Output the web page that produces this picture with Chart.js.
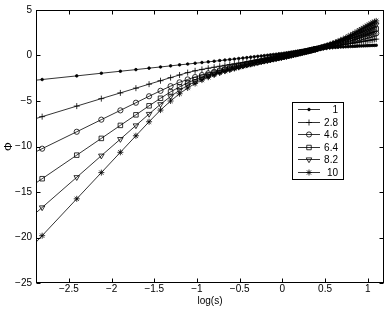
<!DOCTYPE html>
<html>
<head>
<meta charset="utf-8">
<script src="https://cdn.jsdelivr.net/npm/chart.js@4.4.1/dist/chart.umd.min.js"></script>
<style>
  html, body { margin: 0; padding: 0; background: #fff; }
  canvas { display: block; }
</style>
</head>
<body>
<canvas id="id_graph" width="390" height="309"></canvas>
<script>
// x = log(s)
var logS = [-3.507,-2.813,-2.408,-2.120,-1.897,-1.715,-1.561,-1.427,-1.309,-1.204,-1.109,-1.022,
  -0.942,-0.868,-0.799,-0.734,-0.673,-0.616,-0.562,-0.511,
  -0.462,-0.416,-0.371,-0.329,-0.288,-0.248,-0.211,-0.174,-0.139,-0.105,
  -0.073,-0.041,-0.010,0.020,0.049,0.077,0.104,0.131,0.157,0.182,
  0.207,0.231,0.255,0.278,0.300,0.322,0.344,0.365,0.385,0.405,
  0.445,0.482,0.519,0.554,0.588,0.621,0.652,0.683,0.713,0.742,
  0.770,0.798,0.824,0.850,0.875,0.900,0.924,0.948,0.971,0.993,
  1.015,1.037,1.058,1.078,1.099];

// Phi for each parameter value
var phi1 = [-3.34,-2.64,-2.24,-1.95,-1.73,-1.55,-1.39,-1.26,-1.14,-1.03,-0.94,-0.85,
  -0.77,-0.70,-0.63,-0.56,-0.50,-0.44,-0.39,-0.33,
  -0.28,-0.23,-0.18,-0.13,-0.09,-0.05,-0.01,0.03,0.07,0.11,
  0.14,0.18,0.21,0.25,0.29,0.33,0.37,0.41,0.45,0.48,
  0.52,0.55,0.58,0.61,0.64,0.67,0.69,0.71,0.73,0.75,
  0.78,0.80,0.83,0.85,0.87,0.89,0.91,0.93,0.94,0.96,
  0.97,0.99,1.00,1.01,1.03,1.04,1.05,1.06,1.07,1.08,
  1.09,1.10,1.11,1.11,1.12];
var phi28 = [-8.69,-6.72,-5.56,-4.74,-4.11,-3.59,-3.15,-2.77,-2.43,-2.14,-1.88,-1.68,
  -1.53,-1.40,-1.29,-1.18,-1.08,-0.99,-0.91,-0.83,
  -0.76,-0.69,-0.62,-0.56,-0.50,-0.44,-0.38,-0.32,-0.27,-0.21,
  -0.16,-0.11,-0.06,0.00,0.06,0.11,0.16,0.21,0.26,0.31,
  0.36,0.41,0.46,0.50,0.55,0.59,0.63,0.67,0.71,0.75,
  0.81,0.86,0.91,0.96,1.01,1.06,1.10,1.14,1.19,1.23,
  1.27,1.31,1.35,1.39,1.43,1.47,1.51,1.55,1.59,1.62,
  1.66,1.70,1.73,1.77,1.80];
var phi46 = [-13.43,-10.24,-8.38,-7.05,-6.03,-5.19,-4.48,-3.88,-3.37,-2.95,-2.63,-2.37,
  -2.15,-1.96,-1.79,-1.63,-1.49,-1.36,-1.24,-1.13,
  -1.03,-0.93,-0.84,-0.75,-0.67,-0.59,-0.52,-0.45,-0.38,-0.31,
  -0.25,-0.19,-0.13,-0.07,-0.01,0.05,0.10,0.16,0.21,0.27,
  0.32,0.37,0.42,0.47,0.52,0.57,0.62,0.66,0.70,0.75,
  0.83,0.91,0.99,1.07,1.14,1.21,1.28,1.35,1.42,1.49,
  1.56,1.63,1.70,1.76,1.83,1.89,1.96,2.02,2.08,2.14,
  2.20,2.26,2.32,2.37,2.43];
var phi64 = [-17.98,-13.54,-10.95,-9.11,-7.68,-6.52,-5.53,-4.70,-4.00,-3.45,-3.00,-2.65,
  -2.37,-2.13,-1.92,-1.74,-1.58,-1.44,-1.31,-1.19,
  -1.08,-0.98,-0.88,-0.79,-0.71,-0.63,-0.56,-0.49,-0.42,-0.35,
  -0.29,-0.23,-0.17,-0.11,-0.05,0.01,0.07,0.13,0.18,0.24,
  0.29,0.35,0.40,0.45,0.50,0.55,0.60,0.65,0.70,0.74,
  0.84,0.93,1.02,1.11,1.20,1.29,1.38,1.47,1.56,1.65,
  1.74,1.83,1.92,2.01,2.10,2.19,2.28,2.37,2.46,2.54,
  2.62,2.70,2.78,2.85,2.92];
var phi82 = [-22.39,-16.70,-13.38,-11.01,-9.19,-7.69,-6.43,-5.36,-4.50,-3.82,-3.28,-2.86,
  -2.53,-2.26,-2.03,-1.83,-1.66,-1.51,-1.37,-1.25,
  -1.13,-1.02,-0.92,-0.83,-0.74,-0.66,-0.59,-0.52,-0.45,-0.38,
  -0.32,-0.26,-0.20,-0.14,-0.08,-0.02,0.04,0.10,0.16,0.21,
  0.27,0.32,0.38,0.43,0.48,0.53,0.58,0.63,0.68,0.73,
  0.84,0.95,1.05,1.15,1.26,1.37,1.47,1.58,1.69,1.79,
  1.91,2.02,2.13,2.24,2.36,2.47,2.58,2.70,2.81,2.91,
  3.02,3.12,3.21,3.31,3.40];
var phi10 = [-26.74,-19.80,-15.75,-12.87,-10.64,-8.82,-7.28,-6.00,-5.00,-4.20,-3.57,-3.08,
  -2.70,-2.39,-2.13,-1.91,-1.72,-1.56,-1.42,-1.29,
  -1.17,-1.06,-0.96,-0.86,-0.77,-0.69,-0.61,-0.54,-0.47,-0.40,
  -0.34,-0.28,-0.22,-0.16,-0.10,-0.04,0.02,0.08,0.14,0.20,
  0.25,0.31,0.36,0.42,0.47,0.52,0.57,0.62,0.67,0.72,
  0.85,0.96,1.08,1.19,1.32,1.45,1.57,1.70,1.82,1.95,
  2.09,2.22,2.36,2.49,2.63,2.77,2.90,3.03,3.15,3.27,
  3.39,3.50,3.61,3.70,3.80];

var seriesLabels = ['1', '2.8', '4.6', '6.4', '8.2', '10'];
var seriesValues = [phi1, phi28, phi46, phi64, phi82, phi10];

var xTicks = [-2.5, -2, -1.5, -1, -0.5, 0, 0.5, 1];
var xTickLabels = ['\u22122.5', '\u22122', '\u22121.5', '\u22121', '\u22120.5', '0', '0.5', '1'];
var yTicks = [-25, -20, -15, -10, -5, 0, 5];
var yTickLabels = ['\u221225', '\u221220', '\u221215', '\u221210', '\u22125', '0', '5'];

// marker look per series (MATLAB . + o s v *)
var markers = [
  { pointStyle: 'circle', radius: 1.3, fill: true, rotation: 0 },
  { pointStyle: 'cross', radius: 3, fill: false, rotation: 0 },
  { pointStyle: 'circle', radius: 2.6, fill: false, rotation: 0 },
  { pointStyle: 'rect', radius: 3.2, fill: false, rotation: 0 },
  { pointStyle: 'triangle', radius: 3.2, fill: false, rotation: 180 },
  { pointStyle: 'star', radius: 3, fill: false, rotation: 0 }
];

var FONT = 'Liberation Sans, Arial, Helvetica, sans-serif';

var datasets = seriesValues.map(function (vals, k) {
  var m = markers[k];
  return {
    label: seriesLabels[k],
    data: logS.map(function (x, i) { return { x: x, y: vals[i] }; }),
    showLine: true,
    borderColor: '#000',
    borderWidth: 0.8,
    pointStyle: m.pointStyle,
    pointRadius: m.radius,
    pointRotation: m.rotation,
    pointBorderWidth: 0.8,
    pointBorderColor: '#000',
    pointBackgroundColor: m.fill ? '#000' : 'rgba(0,0,0,0)',
    tension: 0
  };
});

// box + inward ticks, and the legend inside the plot
var matlabAxes = {
  id: 'matlabAxes',
  afterDraw: function (chart) {
    var ctx = chart.ctx, a = chart.chartArea;
    var sx = chart.scales.x, sy = chart.scales.y;
    var L = Math.round(a.left) + 0.5, R = Math.round(a.right) - 0.5;
    var T = Math.round(a.top) + 0.5, B = Math.round(a.bottom) - 0.5;
    ctx.save();
    ctx.strokeStyle = '#000';
    ctx.lineWidth = 1;
    ctx.strokeRect(L, T, R - L, B - T);
    var tl = 4;
    ctx.beginPath();
    xTicks.forEach(function (v) {
      var px = Math.round(sx.getPixelForValue(v)) + 0.5;
      ctx.moveTo(px, B); ctx.lineTo(px, B - tl);
      ctx.moveTo(px, T); ctx.lineTo(px, T + tl);
    });
    yTicks.forEach(function (v) {
      var py = Math.round(sy.getPixelForValue(v)) + 0.5;
      ctx.moveTo(L, py); ctx.lineTo(L + tl, py);
      ctx.moveTo(R, py); ctx.lineTo(R - tl, py);
    });
    ctx.stroke();

    // legend
    var bx = 292.5, by = 102.5, bw = 51, bh = 77;
    ctx.fillStyle = '#fff';
    ctx.fillRect(bx, by, bw, bh);
    ctx.strokeRect(bx, by, bw, bh);
    ctx.font = '10px ' + FONT;
    ctx.textAlign = 'right';
    ctx.textBaseline = 'middle';
    seriesLabels.forEach(function (lab, k) {
      var y = Math.round(109 + k * 12.6) + 0.5;
      var m = markers[k];
      ctx.strokeStyle = '#000';
      ctx.lineWidth = 0.8;
      ctx.beginPath();
      ctx.moveTo(298, y); ctx.lineTo(320, y);
      ctx.stroke();
      ctx.fillStyle = m.fill ? '#000' : 'rgba(0,0,0,0)';
      Chart.helpers.drawPoint(ctx, {
        pointStyle: m.pointStyle, radius: m.radius, rotation: m.rotation, borderWidth: 0.8
      }, 309, y);
      ctx.fillStyle = '#000';
      ctx.fillText(lab, 338, y + 0.5);
    });
    ctx.restore();
  }
};

var ctx = document.getElementById('id_graph').getContext('2d');
new Chart(ctx, {
  type: 'scatter',
  data: { datasets: datasets },
  plugins: [matlabAxes],
  options: {
    responsive: false,
    animation: false,
    devicePixelRatio: 1,
    layout: { padding: { top: 10, right: 6, left: 0, bottom: 0 } },
    plugins: { legend: { display: false }, tooltip: { enabled: false } },
    scales: {
      x: {
        type: 'linear',
        min: -2.885,
        max: 1.19,
        afterBuildTicks: function (scale) {
          scale.ticks = xTicks.map(function (v) { return { value: v }; });
        },
        afterFit: function (scale) { scale.height = 26; },
        grid: { display: false, drawTicks: false },
        border: { display: false },
        ticks: {
          color: '#000',
          font: { family: FONT, size: 10 },
          padding: 0,
          maxRotation: 0,
          autoSkip: false,
          callback: function (v) { return xTickLabels[xTicks.indexOf(v)]; }
        },
        title: {
          display: true,
          text: 'log(s)',
          color: '#000',
          font: { family: FONT, size: 10 },
          padding: { top: 0, bottom: 2 }
        }
      },
      y: {
        type: 'linear',
        min: -25,
        max: 5,
        afterBuildTicks: function (scale) {
          scale.ticks = yTicks.map(function (v) { return { value: v }; });
        },
        afterFit: function (scale) { scale.width = 36; },
        grid: { display: false, drawTicks: false },
        border: { display: false },
        ticks: {
          color: '#000',
          font: { family: FONT, size: 10 },
          padding: 4,
          autoSkip: false,
          callback: function (v) { return yTickLabels[yTicks.indexOf(v)]; }
        },
        title: {
          display: true,
          text: '\u03A6',
          color: '#000',
          font: { family: FONT, size: 11 },
          padding: { top: 2, bottom: 0 }
        }
      }
    }
  }
});
</script>
</body>
</html>
